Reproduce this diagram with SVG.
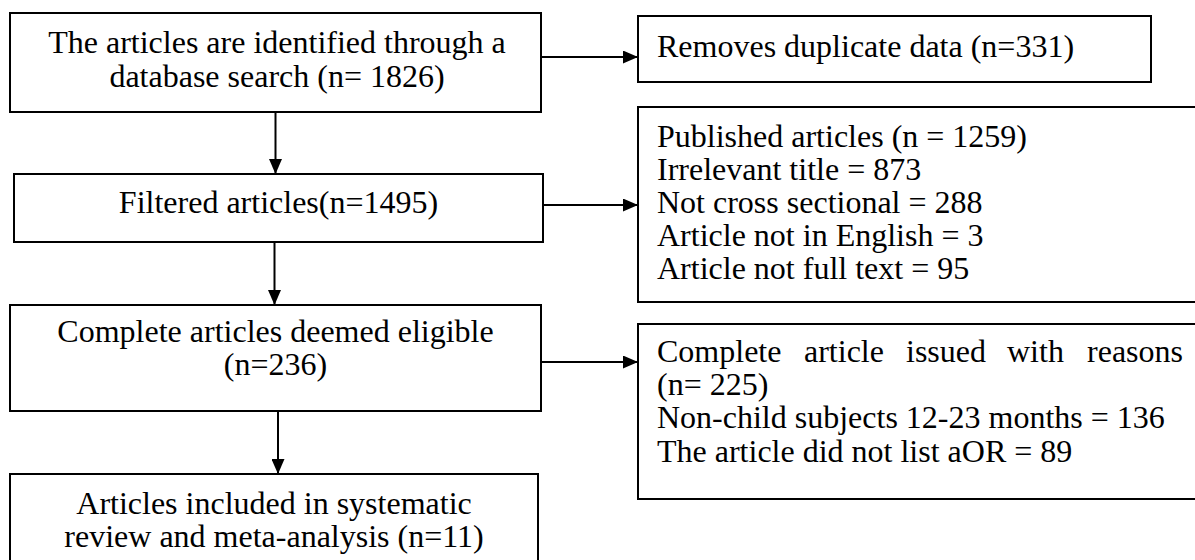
<svg xmlns="http://www.w3.org/2000/svg" width="1195" height="560" viewBox="0 0 1195 560">
<style>
.box{fill:#fff;stroke:#000;stroke-width:2}
.t{font-family:"Liberation Serif","Times New Roman",serif;font-size:32px;fill:#000}
.c{text-anchor:middle}
.ln{stroke:#000;stroke-width:2;fill:none}
</style>
<defs>
<marker id="ah" markerUnits="userSpaceOnUse" markerWidth="15" markerHeight="13" refX="15" refY="6.5" orient="auto">
<path d="M0,0 L15,6.5 L0,13 Z" fill="#000"/>
</marker>
</defs>
<rect width="1195" height="560" fill="#fff"/>
<g id="connectors">
<line class="ln" x1="541" y1="57" x2="638" y2="57" marker-end="url(#ah)"/>
<line class="ln" x1="543" y1="205" x2="638" y2="205" marker-end="url(#ah)"/>
<line class="ln" x1="541" y1="362" x2="638" y2="362" marker-end="url(#ah)"/>
<line class="ln" x1="275.5" y1="112" x2="275.5" y2="174" marker-end="url(#ah)"/>
<line class="ln" x1="274.5" y1="242" x2="274.5" y2="305" marker-end="url(#ah)"/>
<line class="ln" x1="278" y1="411" x2="278" y2="474" marker-end="url(#ah)"/>
</g>
<g id="n1">
<rect class="box" x="10" y="13" width="531" height="99"/>
<text class="t c" x="277" y="53">The articles are identified through a</text>
<text class="t c" x="277" y="87">database search (n= 1826)</text>
</g>
<g id="n2">
<rect class="box" x="638" y="16" width="513" height="66"/>
<text class="t" x="657" y="57">Removes duplicate data (n=331)</text>
</g>
<g id="n3">
<rect class="box" x="14" y="174" width="529" height="68"/>
<text class="t c" x="278.5" y="213">Filtered articles(n=1495)</text>
</g>
<g id="n4">
<rect class="box" x="638" y="107" width="580" height="195"/>
<text class="t" x="657" y="147">Published articles (n = 1259)</text>
<text class="t" x="657" y="180">Irrelevant title = 873</text>
<text class="t" x="657" y="213">Not cross sectional = 288</text>
<text class="t" x="657" y="246">Article not in English = 3</text>
<text class="t" x="657" y="279">Article not full text = 95</text>
</g>
<g id="n5">
<rect class="box" x="10" y="305" width="531" height="106"/>
<text class="t c" x="275.5" y="342">Complete articles deemed eligible</text>
<text class="t c" x="275.5" y="375">(n=236)</text>
</g>
<g id="n6">
<rect class="box" x="638" y="324" width="580" height="175"/>
<text class="t" y="362"><tspan x="657">Complete</tspan><tspan x="804">article</tspan><tspan x="906">issued</tspan><tspan x="1007">with</tspan><tspan x="1183" text-anchor="end">reasons</tspan></text>
<text class="t" x="657" y="395">(n= 225)</text>
<text class="t" x="657" y="428">Non-child subjects 12-23 months = 136</text>
<text class="t" x="657" y="462">The article did not list aOR = 89</text>
</g>
<g id="n7">
<rect class="box" x="10" y="474" width="528" height="100"/>
<text class="t c" x="274" y="514">Articles included in systematic</text>
<text class="t c" x="274" y="547">review and meta-analysis (n=11)</text>
</g>
</svg>
